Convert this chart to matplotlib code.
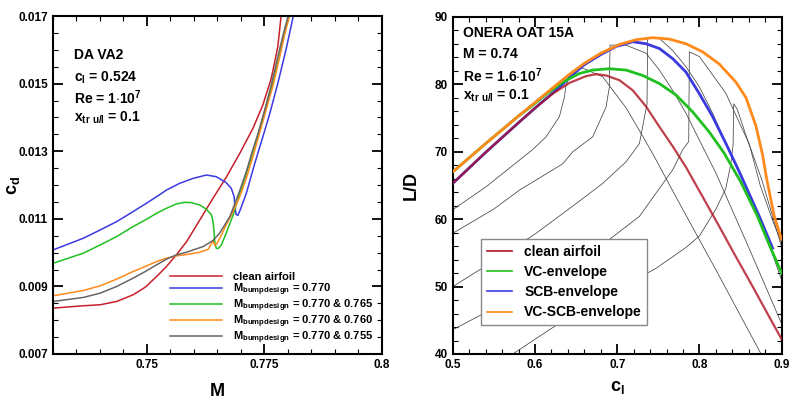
import numpy as np, matplotlib
matplotlib.use("Agg"); import matplotlib.pyplot as plt
from matplotlib.ticker import MultipleLocator, FixedLocator

plt.rcParams['font.family'] = ['Liberation Sans', 'DejaVu Sans']
plt.rcParams['font.weight'] = 'bold'
plt.rcParams['axes.labelweight'] = 'bold'
plt.rcParams['mathtext.fontset'] = 'custom'
plt.rcParams['mathtext.rm'] = 'Liberation Sans'
plt.rcParams['mathtext.bf'] = 'Liberation Sans:bold'

# ---- left: DA VA2 drag rise, c_d vs M
clean_M  = [0.7301, 0.7365, 0.7401, 0.7436, 0.7471, 0.7497, 0.7521, 0.7542, 0.7563, 0.7585, 0.7613,
            0.7641, 0.7670, 0.7698, 0.7726, 0.7747, 0.7765, 0.7779, 0.7786]
clean_cd = [0.008358, 0.008427, 0.008457, 0.008555, 0.008752, 0.008978, 0.009293, 0.009589, 0.009933, 0.010327, 0.010967,
            0.011606, 0.012246, 0.012935, 0.013673, 0.014362, 0.015150, 0.016085, 0.017]
b770_M  = [0.7301, 0.7365, 0.7401, 0.7436, 0.7471, 0.7497, 0.7521, 0.7542, 0.7570, 0.7599, 0.7627, 0.7648, 0.7669,
           0.7680, 0.7686, 0.7688, 0.7690, 0.7694, 0.7699, 0.7712, 0.7730, 0.7744, 0.7761, 0.7779, 0.7797, 0.7812]
b770_cd = [0.010081, 0.010425, 0.010671, 0.010917, 0.011213, 0.011439, 0.011654, 0.011850, 0.012049, 0.012197, 0.012295, 0.012246, 0.012069,
           0.011902, 0.011656, 0.011360, 0.011134, 0.011104, 0.011262, 0.011754, 0.012640, 0.013280, 0.014067, 0.015002, 0.016035, 0.017]
b765_M  = [0.7301, 0.7365, 0.7401, 0.7436, 0.7471, 0.7497, 0.7521, 0.7542, 0.7563, 0.7581, 0.7595, 0.7613, 0.7627, 0.7638, 0.7641, 0.7643,
           0.7645, 0.7648, 0.7652, 0.7659, 0.7669, 0.7684, 0.7698, 0.7712, 0.7726, 0.7740, 0.7754, 0.7769, 0.7783, 0.7793, 0.7803]
b765_cd = [0.009687, 0.009982, 0.010228, 0.010474, 0.010770, 0.010967, 0.011163, 0.011311, 0.011439, 0.011488, 0.011478, 0.011409, 0.011281, 0.011114, 0.010917, 0.010671,
           0.010278, 0.010130, 0.010120, 0.010228, 0.010573, 0.011114, 0.011754, 0.012344, 0.012984, 0.013624, 0.014313, 0.015051, 0.015839, 0.016478, 0.017]
b760_M  = [0.7301, 0.7365, 0.7401, 0.7436, 0.7471, 0.7497, 0.7521, 0.7542, 0.7563, 0.7585, 0.7613, 0.7631, 0.7641, 0.7645,
           0.7650, 0.7659, 0.7669, 0.7684, 0.7698, 0.7712, 0.7726, 0.7740, 0.7754, 0.7769, 0.7783, 0.7794, 0.7804]
b760_cd = [0.008722, 0.008880, 0.009018, 0.009215, 0.009441, 0.009589, 0.009736, 0.009835, 0.009904, 0.009943, 0.010012, 0.010100, 0.010356, 0.010209,
           0.010278, 0.010524, 0.010819, 0.011213, 0.011656, 0.012197, 0.012837, 0.013526, 0.014215, 0.014953, 0.015789, 0.016478, 0.017]
b755_M  = [0.7301, 0.7365, 0.7401, 0.7436, 0.7471, 0.7497, 0.7521, 0.7542, 0.7563, 0.7585, 0.7620, 0.7641, 0.7655, 0.7677,
           0.7698, 0.7712, 0.7723, 0.7737, 0.7751, 0.7765, 0.7779, 0.7791, 0.7801]
b755_cd = [0.008555, 0.008673, 0.008801, 0.008998, 0.009244, 0.009441, 0.009638, 0.009805, 0.009933, 0.010012, 0.010179, 0.010356, 0.010573, 0.011065,
           0.011833, 0.012394, 0.012915, 0.013526, 0.014215, 0.014953, 0.015789, 0.016478, 0.017]

left_labels = ["clean airfoil",
               r"M$_\mathbf{bumpdesign}$ = 0.770",
               r"M$_\mathbf{bumpdesign}$ = 0.770 & 0.765",
               r"M$_\mathbf{bumpdesign}$ = 0.770 & 0.760",
               r"M$_\mathbf{bumpdesign}$ = 0.770 & 0.755"]

# ---- right: ONERA OAT 15A, L/D vs c_l
red_cl = [0.5, 0.54, 0.58, 0.6013, 0.6216, 0.6419, 0.6621, 0.6743, 0.6864, 0.7027, 0.7189, 0.7351, 0.7513,
          0.7675, 0.7837, 0.804, 0.8242, 0.8445, 0.8648, 0.885, 0.9]
red_ld = [65.3, 69.9, 74.3, 76.6, 78.6, 80.2, 81.2, 81.5, 81.3, 80.6, 79.1, 76.7, 73.7,
          70.8, 67.7, 63.3, 58.9, 54.4, 50.0, 45.5, 42.2]
vc_cl = [0.5, 0.54, 0.58, 0.5932, 0.6135, 0.6337, 0.654, 0.6702, 0.6905, 0.7108, 0.731, 0.7513, 0.7716,
         0.7918, 0.8121, 0.83, 0.85, 0.87, 0.885, 0.9]
vc_ld = [67.0, 71.2, 75.3, 76.5, 78.5, 80.3, 81.6, 82.1, 82.3, 82.1, 81.3, 80.1, 78.4,
         75.9, 72.9, 69.8, 65.6, 60.6, 56.2, 52.0]
scb_cl = [0.5, 0.54, 0.58, 0.6013, 0.6216, 0.6337, 0.6419, 0.66, 0.68, 0.6986, 0.7189, 0.7351, 0.7513, 0.7675, 0.7837,
          0.7999, 0.8161, 0.8323, 0.8486, 0.8729, 0.8891]
scb_ld = [65.3, 69.9, 74.3, 76.6, 78.7, 80.0, 81.0, 82.9, 84.4, 85.6, 86.3, 86.0, 85.3, 83.8, 81.8,
          78.6, 75.2, 71.2, 67.0, 60.4, 55.7]
vcscb_cl = [0.5, 0.54, 0.58, 0.62, 0.64, 0.66, 0.68, 0.7027, 0.7229, 0.7432, 0.7634, 0.7837, 0.804, 0.8242,
            0.8445, 0.8567, 0.8688, 0.8769, 0.8818, 0.8911, 0.9]
vcscb_ld = [67.0, 71.2, 75.3, 79.3, 81.3, 83.1, 84.6, 85.9, 86.6, 86.9, 86.7, 86.0, 84.8, 83.0,
            80.3, 78.0, 73.8, 69.5, 66.0, 60.4, 57.0]

# single-bump polars (thin lines)
p1_cl = [0.5, 0.5405, 0.597, 0.6135, 0.6297, 0.6358, 0.6378, 0.645, 0.654, 0.6824, 0.7108, 0.731, 0.745, 0.775, 0.82, 0.875]
p1_ld = [61.4, 64.8, 70.3, 72.2, 75.2, 78.1, 79.9, 81.8, 82.6, 81.1, 76.5, 72.3, 69.3, 62.5, 52.5, 40.0]
p2_cl = [0.5, 0.55, 0.5811, 0.6337, 0.646, 0.6702, 0.6864, 0.6905, 0.6913, 0.7108, 0.7351, 0.7513, 0.7675,
         0.7837, 0.8, 0.8202, 0.86, 0.9]
p2_ld = [57.9, 61.5, 64.3, 68.2, 70.0, 72.2, 76.6, 79.6, 85.8, 85.8, 84.6, 82.1, 79.1,
         75.7, 71.7, 66.8, 55.8, 44.5]
p3_cl = [0.5, 0.55, 0.6013, 0.65, 0.6824, 0.7108, 0.727, 0.7363, 0.737, 0.7513, 0.7675, 0.7837, 0.8,
         0.8161, 0.8323, 0.8486, 0.8567, 0.875, 0.9]
p3_ld = [50.0, 53.8, 57.9, 62.3, 65.3, 68.5, 71.2, 77.1, 86.8, 86.8, 85.0, 82.6, 79.6,
         75.7, 71.2, 66.8, 64.8, 59.5, 51.0]
p4_cl = [0.5, 0.55, 0.6216, 0.68, 0.727, 0.7675, 0.7797, 0.787, 0.7878, 0.8, 0.832, 0.86, 0.876, 0.9]
p4_ld = [43.6, 46.8, 51.5, 56.0, 60.4, 67.3, 70.3, 71.5, 84.8, 84.1, 78.7, 71.3, 65.8, 55.9]
p5_cl = [0.573, 0.62, 0.6621, 0.7472, 0.7837, 0.8, 0.8202, 0.832, 0.838, 0.841, 0.8417, 0.846, 0.862, 0.874, 0.89, 0.9]
p5_ld = [40.0, 43.8, 47.0, 52.7, 55.8, 57.5, 61.5, 64.5, 68.0, 71.0, 77.1, 76.3, 70.5, 65.0, 59.5, 56.5]

right_labels = ["clean airfoil", "VC-envelope", "SCB-envelope", "VC-SCB-envelope"]

RED, BLUE, GREEN, ORANGE, GRAY = "#c8202a", "#3a3ae0", "#20c020", "#ff8a1c", "#666666"

fig = plt.figure(figsize=(8, 4), dpi=100)
ax1 = fig.add_axes([0.066, 0.115, 0.411, 0.845])
ax2 = fig.add_axes([0.566, 0.115, 0.411, 0.843])

for ax in (ax1, ax2):
    ax.tick_params(which="both", direction="in", top=True, right=True, labelsize=8.5)
    ax.tick_params(which="major", length=7, width=1.3)
    ax.tick_params(which="minor", length=3.5, width=0.8)
    for s in ax.spines.values():
        s.set_linewidth(1.5)

# left
lw = 1.1
ax1.plot(clean_M, clean_cd, color=RED, lw=lw, label=left_labels[0])
ax1.plot(b770_M, b770_cd, color=BLUE, lw=lw, label=left_labels[1])
ax1.plot(b765_M, b765_cd, color=GREEN, lw=lw, label=left_labels[2])
ax1.plot(b760_M, b760_cd, color=ORANGE, lw=lw, label=left_labels[3])
ax1.plot(b755_M, b755_cd, color=GRAY, lw=lw, label=left_labels[4])
ax1.set_xlim(0.73, 0.8); ax1.set_ylim(0.007, 0.017)
ax1.xaxis.set_major_locator(FixedLocator([0.75, 0.775, 0.8]))
ax1.xaxis.set_minor_locator(MultipleLocator(0.005))
ax1.yaxis.set_minor_locator(MultipleLocator(0.0005))
ax1.set_xticklabels(["0.75", "0.775", "0.8"], fontweight="bold")
ax1.set_yticks([0.007, 0.009, 0.011, 0.013, 0.015, 0.017])
ax1.set_yticklabels(["0.007", "0.009", "0.011", "0.013", "0.015", "0.017"], fontweight="bold")
ax1.set_xlabel("M", fontsize=13, fontweight="bold")
ax1.set_ylabel(r"c$_\mathbf{d}$", fontsize=13, fontweight="bold")
ax1.xaxis.set_label_coords(0.5, -0.085)
ax1.yaxis.set_label_coords(-0.095, 0.5)
ax1.legend(loc="lower right", bbox_to_anchor=(1.0, 0.0), frameon=False, fontsize=8,
           handlelength=4.7, labelspacing=-0.05, borderaxespad=0.35, handletextpad=1.0)
for y, t in [(0.885, "DA VA2"), (0.817, r"c$_\mathbf{l}$ = 0.524"),
             (0.757, r"Re = 1$\cdot$10$^\mathbf{7}$"), (0.698, r"x$_\mathbf{tr\ u/l}$ = 0.1")]:
    ax1.text(0.064, y, t, transform=ax1.transAxes, fontsize=10, va="center", fontweight="bold")

# right
thin = dict(color="#444444", lw=0.55)
for c, l in [(p1_cl, p1_ld), (p2_cl, p2_ld), (p3_cl, p3_ld), (p4_cl, p4_ld), (p5_cl, p5_ld)]:
    ax2.plot(c, l, **thin)
ax2.plot(scb_cl, scb_ld, color=BLUE, lw=2.0, label=right_labels[2], zorder=3)
ax2.plot(red_cl, red_ld, color="#b01020", lw=1.6, alpha=0.8, label=right_labels[0], zorder=4)
ax2.plot(vc_cl, vc_ld, color=GREEN, lw=2.0, label=right_labels[1], zorder=3)
ax2.plot(vcscb_cl, vcscb_ld, color=ORANGE, lw=2.0, label=right_labels[3], zorder=4)
ax2.set_xlim(0.5, 0.9); ax2.set_ylim(40, 90)
ax2.xaxis.set_minor_locator(MultipleLocator(0.02))
ax2.yaxis.set_minor_locator(MultipleLocator(2))
ax2.set_xticks([0.5, 0.6, 0.7, 0.8, 0.9])
ax2.set_xticklabels(["0.5", "0.6", "0.7", "0.8", "0.9"], fontweight="bold")
ax2.set_yticks([40, 50, 60, 70, 80, 90])
ax2.set_yticklabels(["40", "50", "60", "70", "80", "90"], fontweight="bold")
ax2.set_xlabel(r"c$_\mathbf{l}$", fontsize=13, fontweight="bold")
ax2.set_ylabel("L/D", fontsize=13, fontweight="bold")
ax2.xaxis.set_label_coords(0.5, -0.075)
ax2.yaxis.set_label_coords(-0.1, 0.5)
h, lab = ax2.get_legend_handles_labels()
order = [lab.index(s) for s in right_labels]
leg = ax2.legend([h[i] for i in order], [lab[i] for i in order], loc="lower left",
                 bbox_to_anchor=(0.086, 0.086), borderaxespad=0, fontsize=10,
                 fancybox=False, framealpha=1, edgecolor="#888888",
                 handlelength=1.8, labelspacing=0.45, handletextpad=0.9, borderpad=0.4)
for ln in leg.get_lines():
    ln.set_linewidth(1.2); ln.set_alpha(1)
for y, t in [(0.953, "ONERA OAT 15A"), (0.89, "M = 0.74"),
             (0.825, r"Re = 1.6$\cdot$10$^\mathbf{7}$"), (0.766, r"x$_\mathbf{tr\ u/l}$ = 0.1")]:
    ax2.text(0.03, y, t, transform=ax2.transAxes, fontsize=10, va="center", fontweight="bold")

plt.savefig("out.png", dpi=100)
